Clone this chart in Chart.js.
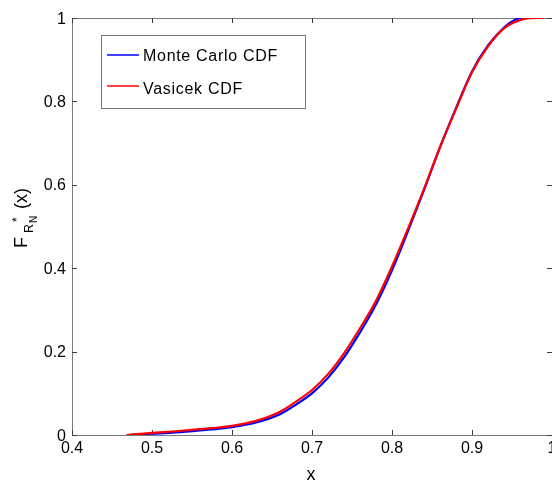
<!DOCTYPE html>
<html>
<head>
<meta charset="utf-8">
<script src="https://cdn.jsdelivr.net/npm/chart.js@4/dist/chart.umd.min.js"></script>
<style>
  html, body { margin: 0; padding: 0; background: #fff; }
  canvas { display: block; }
</style>
</head>
<body>
<canvas id="cdf" width="552" height="485"></canvas>
<script>
// x grid and CDF values
const vasicekX = [0.468, 0.50, 0.53, 0.56, 0.60, 0.63, 0.66, 0.68, 0.70, 0.72, 0.74, 0.76, 0.78,
  0.80, 0.82, 0.84, 0.86, 0.88, 0.90, 0.92, 0.94, 0.96, 0.98, 0.99];
const vasicekY = [0.0, 0.005, 0.009, 0.014, 0.022, 0.034, 0.056, 0.080, 0.108, 0.146, 0.196, 0.256, 0.322,
  0.404, 0.495, 0.590, 0.690, 0.782, 0.870, 0.932, 0.975, 0.995, 1.0, 1.0];

const monteCarloX = [0.47, 0.50, 0.53, 0.56, 0.60, 0.63, 0.66, 0.68, 0.70, 0.72, 0.74, 0.76, 0.78,
  0.80, 0.82, 0.84, 0.86, 0.88, 0.90, 0.92, 0.94, 0.955, 0.962];
const monteCarloY = [0.0, 0.003, 0.006, 0.011, 0.019, 0.030, 0.050, 0.073, 0.100, 0.137, 0.186, 0.246, 0.313,
  0.395, 0.489, 0.587, 0.690, 0.784, 0.872, 0.934, 0.977, 0.997, 1.0];

const xTicks = [0.4, 0.5, 0.6, 0.7, 0.8, 0.9, 1];
const yTicks = [0, 0.2, 0.4, 0.6, 0.8, 1];

const seriesNames = ["Monte Carlo CDF", "Vasicek CDF"];
const seriesColors = ["#0000ff", "#ff0000"];

const FONT = '"Liberation Sans", Arial, Helvetica, sans-serif';

function toPoints(xs, ys) {
  return xs.map((x, i) => ({ x: x, y: ys[i] }));
}

// MATLAB-style box, inward ticks, labels and legend
const matlabAxes = {
  id: "matlabAxes",
  beforeDatasetsDraw(chart) {
    const ctx = chart.ctx;
    const a = chart.chartArea;
    const xs = chart.scales.x;
    const ys = chart.scales.y;
    ctx.save();
    ctx.strokeStyle = "#7a7a7a";
    ctx.lineWidth = 1;
    ctx.strokeRect(a.left + 0.5, a.top + 0.5, a.right - a.left, a.bottom - a.top);

    ctx.strokeStyle = "#3a3a3a";
    xTicks.forEach((t) => {
      const px = Math.round(xs.getPixelForValue(t)) + 0.5;
      ctx.beginPath();
      ctx.moveTo(px, a.bottom);
      ctx.lineTo(px, a.bottom - 5);
      ctx.moveTo(px, a.top);
      ctx.lineTo(px, a.top + 5);
      ctx.stroke();
    });
    yTicks.forEach((t) => {
      const py = Math.round(ys.getPixelForValue(t)) + 0.5;
      ctx.beginPath();
      ctx.moveTo(a.left, py);
      ctx.lineTo(a.left + 5, py);
      ctx.moveTo(a.right, py);
      ctx.lineTo(a.right - 5, py);
      ctx.stroke();
    });
    ctx.restore();
  },
  afterDraw(chart) {
    const ctx = chart.ctx;
    const a = chart.chartArea;
    const xs = chart.scales.x;
    const ys = chart.scales.y;
    ctx.save();
    ctx.fillStyle = "#000";
    ctx.font = "16px " + FONT;

    // tick labels
    ctx.textAlign = "center";
    ctx.textBaseline = "alphabetic";
    xTicks.forEach((t) => {
      ctx.fillText(String(t), xs.getPixelForValue(t), a.bottom + 18);
    });
    ctx.textAlign = "right";
    yTicks.forEach((t) => {
      ctx.fillText(String(t), a.left - 6, ys.getPixelForValue(t) + 5.5);
    });

    // x axis title
    ctx.textAlign = "center";
    ctx.font = "18px " + FONT;
    ctx.fillText("x", (a.left + a.right) / 2 - 1, 480);

    // y axis title: F_{R_N}^*(x), rotated
    ctx.save();
    ctx.translate(27, 248);
    ctx.rotate(-Math.PI / 2);
    ctx.textAlign = "left";
    ctx.font = "18px " + FONT;
    ctx.fillText("F", 0, 0);
    ctx.font = "12.5px " + FONT;
    ctx.fillText("R", 15, 6);
    ctx.font = "10px " + FONT;
    ctx.fillText("N", 25, 10);
    ctx.font = "12px " + FONT;
    ctx.fillText("*", 26, -6);
    ctx.font = "18px " + FONT;
    ctx.fillText("(x)", 39, 0);
    ctx.restore();

    // legend
    const lx = 101.5, ly = 35.5, lw = 204, lh = 73;
    ctx.fillStyle = "#fff";
    ctx.fillRect(lx, ly, lw, lh);
    ctx.strokeStyle = "#7a7a7a";
    ctx.lineWidth = 1;
    ctx.strokeRect(lx, ly, lw, lh);

    const rows = [{ line: 55, text: 60.5 }, { line: 86, text: 93.5 }];
    ctx.font = "16px " + FONT;
    ctx.textAlign = "left";
    ctx.letterSpacing = "0.7px";
    seriesNames.forEach((name, i) => {
      ctx.strokeStyle = seriesColors[i];
      ctx.lineWidth = 1.5;
      ctx.beginPath();
      ctx.moveTo(107, rows[i].line);
      ctx.lineTo(139, rows[i].line);
      ctx.stroke();
      ctx.fillStyle = "#000";
      ctx.fillText(name, 143, rows[i].text);
    });
    ctx.restore();
  },
};

new Chart(document.getElementById("cdf"), {
  type: "line",
  data: {
    datasets: [
      {
        label: seriesNames[1],
        data: toPoints(vasicekX, vasicekY),
        borderColor: seriesColors[1],
        borderWidth: 2.2,
        pointRadius: 0,
        cubicInterpolationMode: "monotone",
        fill: false,
      },
      {
        label: seriesNames[0],
        data: toPoints(monteCarloX, monteCarloY),
        borderColor: seriesColors[0],
        borderWidth: 2.2,
        pointRadius: 0,
        cubicInterpolationMode: "monotone",
        fill: false,
      },
    ],
  },
  options: {
    responsive: false,
    animation: false,
    events: [],
    layout: { padding: { top: 18, right: 0, left: 0, bottom: 0 } },
    plugins: {
      legend: { display: false },
      tooltip: { enabled: false },
    },
    scales: {
      x: {
        type: "linear",
        min: 0.4,
        max: 1,
        grid: { display: false },
        border: { display: false },
        ticks: { display: false },
        afterFit: (scale) => { scale.height = 50; },
      },
      y: {
        type: "linear",
        min: 0,
        max: 1,
        grid: { display: false },
        border: { display: false },
        ticks: { display: false },
        afterFit: (scale) => { scale.width = 72; },
      },
    },
  },
  plugins: [matlabAxes],
});
</script>
</body>
</html>
